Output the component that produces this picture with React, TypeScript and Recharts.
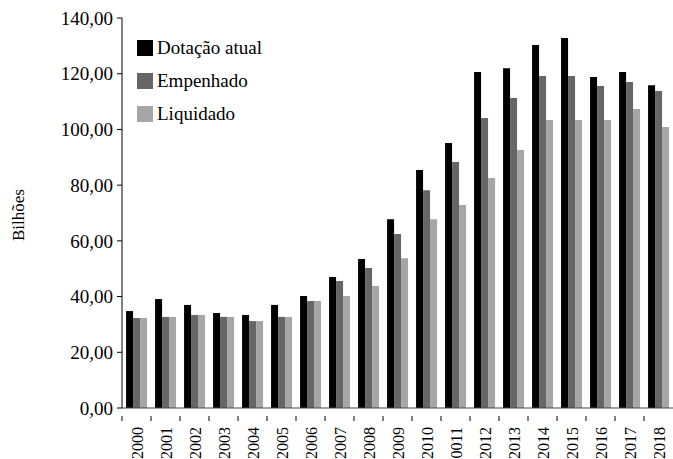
import { Bar, BarChart, Legend, XAxis, YAxis } from "recharts";

const years = [
  "2000", "2001", "2002", "2003", "2004", "2005", "2006", "2007", "2008", "2009",
  "2010", "0011", "2012", "2013", "2014", "2015", "2016", "2017", "2018",
];
const dotacao = [34.8, 39.1, 37.0, 34.1, 33.4, 37.0, 40.2, 47.0, 53.5, 67.8, 85.4, 95.1, 120.6, 122.0, 130.3, 132.8, 118.8, 120.6, 115.9];
const empenhado = [32.3, 32.7, 33.4, 32.7, 31.2, 32.7, 38.4, 45.6, 50.3, 62.5, 78.2, 88.3, 104.1, 111.3, 119.2, 119.2, 115.6, 117.0, 113.8];
const liquidado = [32.3, 32.7, 33.4, 32.7, 31.2, 32.7, 38.4, 40.2, 43.8, 53.8, 67.8, 72.9, 82.6, 92.6, 103.4, 103.4, 103.4, 107.3, 100.9];
const yTicks = [0, 20, 40, 60, 80, 100, 120, 140];

const series = [
  { key: "dotacao", name: "Dotação atual", color: "#000000" },
  { key: "empenhado", name: "Empenhado", color: "#666666" },
  { key: "liquidado", name: "Liquidado", color: "#a6a6a6" },
];

const data = years.map((year, i) => ({
  year,
  dotacao: dotacao[i],
  empenhado: empenhado[i],
  liquidado: liquidado[i],
}));

const W = 673;
const H = 459;
const LEFT = 122;
const BAND = (W - LEFT) / years.length;
const font = "'Liberation Serif', 'Times New Roman', serif";

function YearTick({ x, y, payload }: { x?: number; y?: number; payload?: { value: string } }) {
  const cx = x ?? 0;
  const cy = y ?? 0;
  const left = cx - BAND / 2;
  return (
    <g>
      <line x1={left} x2={left} y1={cy} y2={cy + 5} stroke="#000" />
      <text
        x={cx + 6}
        y={cy + 11}
        transform={`rotate(-90, ${cx + 6}, ${cy + 11})`}
        textAnchor="end"
        fontSize={16}
        fontFamily={font}
        fill="#000"
      >
        {payload?.value}
      </text>
    </g>
  );
}

function LegendBox() {
  return (
    <div style={{ fontFamily: font, fontSize: 19, color: "#000", lineHeight: "33px" }}>
      {series.map((s) => (
        <div key={s.key} style={{ display: "flex", alignItems: "center", height: 33 }}>
          <span style={{ display: "inline-block", width: 16, height: 16, background: s.color, marginRight: 4 }} />
          <span>{s.name}</span>
        </div>
      ))}
    </div>
  );
}

export default function App() {
  return (
    <div style={{ position: "absolute", left: 0, top: 0, width: W, height: H, background: "#fff", fontFamily: font }}>
      <BarChart
        width={W}
        height={H}
        data={data}
        margin={{ top: 18, right: 0, left: 0, bottom: 0 }}
        barCategoryGap="14%"
        barGap={0}
      >
        <XAxis
          dataKey="year"
          interval={0}
          tick={<YearTick />}
          tickLine={false}
          axisLine={{ stroke: "#444" }}
          height={51}
        />
        <YAxis
          domain={[0, 140]}
          ticks={yTicks}
          width={LEFT}
          tickSize={5}
          tickMargin={4}
          axisLine={{ stroke: "#000" }}
          tickLine={{ stroke: "#000" }}
          tick={{ fill: "#000", fontSize: 19, fontFamily: font }}
          tickFormatter={(v: number) => v.toFixed(2).replace(".", ",")}
          label={{
            content: () => (
              <text
                x={24}
                y={215}
                transform="rotate(-90, 24, 215)"
                textAnchor="middle"
                fontSize={17}
                fontFamily={font}
                fill="#000"
              >
                Bilhões
              </text>
            ),
          }}
        />
        <Legend
          content={<LegendBox />}
          wrapperStyle={{ left: 137, top: 31, width: "auto" }}
          verticalAlign="middle"
          align="center"
          layout="vertical"
        />
        {series.map((s) => (
          <Bar key={s.key} dataKey={s.key} name={s.name} fill={s.color} isAnimationActive={false} />
        ))}
      </BarChart>
    </div>
  );
}
